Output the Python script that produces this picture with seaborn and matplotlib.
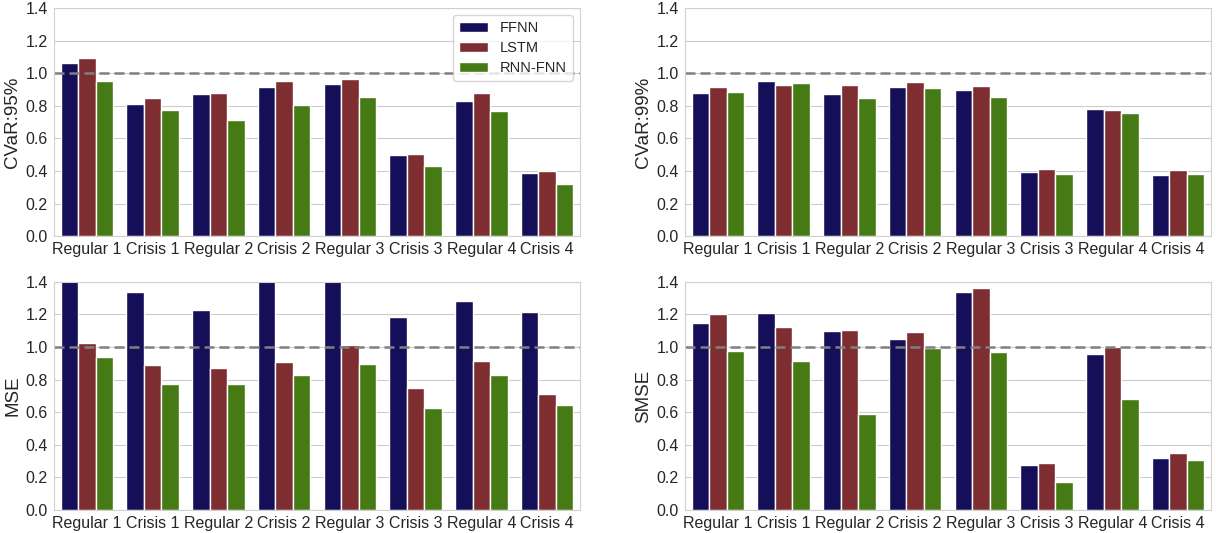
import matplotlib
matplotlib.use("Agg")
import matplotlib.pyplot as plt
import seaborn as sns
import pandas as pd

periods = ["Regular 1", "Crisis 1", "Regular 2", "Crisis 2",
           "Regular 3", "Crisis 3", "Regular 4", "Crisis 4"]
models = ["FFNN", "LSTM", "RNN-FNN"]

# values, one list per model
cvar95_ffnn = [1.06, 0.81, 0.87, 0.915, 0.935, 0.50, 0.83, 0.388]
cvar95_lstm = [1.095, 0.845, 0.88, 0.95, 0.962, 0.507, 0.878, 0.40]
cvar95_rnn = [0.95, 0.775, 0.71, 0.805, 0.852, 0.43, 0.768, 0.318]

cvar99_ffnn = [0.88, 0.955, 0.875, 0.915, 0.895, 0.395, 0.78, 0.377]
cvar99_lstm = [0.913, 0.93, 0.93, 0.945, 0.922, 0.415, 0.775, 0.408]
cvar99_rnn = [0.885, 0.94, 0.85, 0.91, 0.855, 0.382, 0.755, 0.382]

# FFNN bars for Regular 1, Crisis 2 and Regular 3 are cut off at the top in the source
mse_ffnn = [1.5, 1.335, 1.225, 1.45, 1.48, 1.185, 1.28, 1.213]
mse_lstm = [1.028, 0.893, 0.872, 0.908, 1.012, 0.75, 0.913, 0.71]
mse_rnn = [0.94, 0.772, 0.775, 0.83, 0.895, 0.625, 0.83, 0.642]

smse_ffnn = [1.145, 1.208, 1.098, 1.05, 1.34, 0.275, 0.957, 0.322]
smse_lstm = [1.2, 1.123, 1.102, 1.095, 1.363, 0.29, 1.0, 0.352]
smse_rnn = [0.975, 0.915, 0.59, 0.995, 0.97, 0.172, 0.683, 0.305]

palette = {"FFNN": "#140f58", "LSTM": "#7e2e31", "RNN-FNN": "#457a14"}


def make_frame(ffnn, lstm, rnn):
    rows = []
    for name, vals in zip(models, [ffnn, lstm, rnn]):
        for p, v in zip(periods, vals):
            rows.append({"period": p, "model": name, "value": v})
    return pd.DataFrame(rows)


panels = [
    ("CVaR:95%", make_frame(cvar95_ffnn, cvar95_lstm, cvar95_rnn)),
    ("CVaR:99%", make_frame(cvar99_ffnn, cvar99_lstm, cvar99_rnn)),
    ("MSE", make_frame(mse_ffnn, mse_lstm, mse_rnn)),
    ("SMSE", make_frame(smse_ffnn, smse_lstm, smse_rnn)),
]

sns.set_style("whitegrid")
plt.rcParams["font.family"] = ["Liberation Sans", "DejaVu Sans"]

fig, axes = plt.subplots(2, 2, figsize=(12.16, 5.33), dpi=100)
fig.subplots_adjust(left=0.0444, right=0.9959, top=0.985, bottom=0.043,
                    wspace=0.2, hspace=0.2)

for i, (ax, (label, df)) in enumerate(zip(axes.flat, panels)):
    sns.barplot(data=df, x="period", y="value", hue="model", palette=palette,
                saturation=1, edgecolor="white", linewidth=1, ax=ax,
                legend=(i == 0))
    ax.axhline(1.0, color="gray", linestyle="--", linewidth=1.8, dashes=(4, 2))
    ax.set_ylim(0, 1.4)
    ax.set_xlabel("")
    ax.set_ylabel(label, fontsize=13.5, labelpad=3)
    ax.tick_params(axis="both", labelsize=11.5, pad=1)
    for s in ax.spines.values():
        s.set_color("#d0d0d0")
    if i == 0:
        ax.legend(loc="upper right", fontsize=10.5, frameon=True,
                  handlelength=2.0, borderaxespad=0.5, labelspacing=0.4)

fig.savefig("out.png", dpi=100)
